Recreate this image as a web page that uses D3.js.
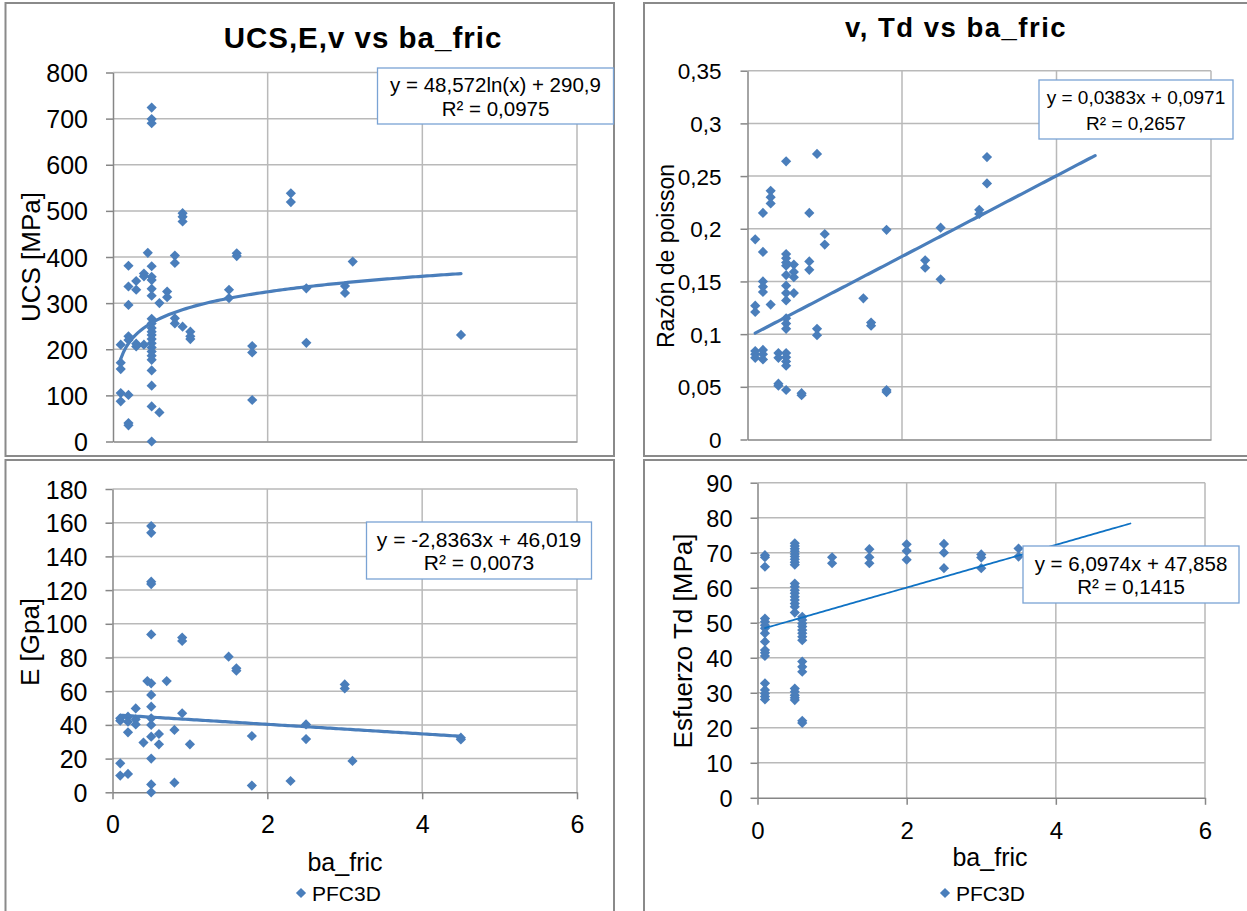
<!DOCTYPE html>
<html>
<head>
<meta charset="utf-8">
<script src="https://cdn.jsdelivr.net/npm/d3@7"></script>
<style>
  html, body { margin: 0; padding: 0; background: #fff; }
  svg { display: block; font-family: "Liberation Sans", Arial, Helvetica, sans-serif; }
</style>
</head>
<body>
<svg id="chart" width="1247" height="911"></svg>
<script>
// PFC3D calibration runs: macro properties against ball friction (ba_fric)

// ---- UCS [MPa] ----
const ucsFric = [
  0.5, 0.5, 0.5, 0.5, 0.5, 0.5, 0.5, 0.5, 0.5, 0.5, 0.5, 0.5, 0.5, 0.5, 0.5, 0.5, 0.5, 0.5, 0.5, 0.5, 0.5, 0.5, 0.5,
  0.9, 0.9, 0.9, 0.9,
  2.3, 2.3,
  0.45,
  0.2, 0.2, 0.2, 0.2, 0.2, 0.2, 0.2, 0.2,
  0.8, 0.8, 0.8, 0.8,
  1.6, 1.6,
  3.1,
  0.4, 0.4, 0.4,
  0.3, 0.3, 0.3, 0.3,
  0.7, 0.7,
  0.6, 0.6,
  1.5, 1.5,
  2.5, 2.5,
  3.0, 3.0,
  1.0, 1.0, 1.0,
  0.1, 0.1, 0.1, 0.1, 0.1,
  1.8, 1.8, 1.8,
  4.5
];
const ucsValues = [
  724, 699, 690, 380, 357, 350, 331, 316, 266, 256, 246, 238, 231, 222, 213, 204, 195, 186, 177, 154, 121, 76, 0,
  495, 487, 477, 249,
  538, 519,
  409,
  381, 336, 296, 228, 220, 101, 40, 35,
  403, 387, 267, 256,
  408, 402,
  390,
  364, 358, 210,
  348, 329, 212, 206,
  325, 313,
  300, 63,
  329, 311,
  332, 214,
  337, 322,
  238, 228, 222,
  210, 171, 157, 105, 87,
  207, 193, 90,
  231
];

// ---- E [GPa] ----
const eFric = [
  0.5, 0.5, 0.5, 0.5, 0.5, 0.5, 0.5, 0.5, 0.5, 0.5, 0.5, 0.5, 0.5, 0.5,
  0.45,
  0.9, 0.9, 0.9,
  1.5,
  1.6, 1.6,
  3.0, 3.0,
  0.7,
  0.3, 0.3, 0.3,
  0.1, 0.1, 0.1, 0.1,
  0.2, 0.2, 0.2, 0.2,
  0.6, 0.6,
  0.8, 0.8,
  0.4,
  1.0,
  1.8, 1.8,
  2.5, 2.5,
  3.1,
  2.3,
  4.5, 4.5
];
const eValues = [
  158, 154, 125, 123.6, 93.7, 64.7, 57.8, 50.8, 43.9, 40, 33, 20, 4.7, 0,
  66,
  91.8, 89.8, 46.9,
  80.5,
  73.6, 72.2,
  64, 61.6,
  66,
  49.8, 43.3, 40.3,
  43.9, 42.5, 17.2, 9.9,
  44.9, 41.9, 35.6, 10.9,
  34.6, 28.5,
  37, 5.7,
  29.5,
  28.5,
  33.4, 4.0,
  40.3, 31.6,
  18.6,
  6.7,
  32.4, 31.4
];

// ---- Poisson ratio ----
const nuFric = [
  0.1, 0.1, 0.1, 0.1, 0.1, 0.1,
  0.2, 0.2, 0.2, 0.2, 0.2, 0.2, 0.2, 0.2,
  0.3, 0.3, 0.3, 0.3,
  0.4, 0.4, 0.4, 0.4,
  0.5, 0.5, 0.5, 0.5, 0.5, 0.5, 0.5, 0.5, 0.5, 0.5, 0.5, 0.5, 0.5, 0.5, 0.5, 0.5, 0.5,
  0.6, 0.6, 0.6, 0.6,
  0.7, 0.7,
  0.8, 0.8, 0.8,
  0.9, 0.9, 0.9,
  1.0, 1.0,
  1.5,
  1.6, 1.6,
  1.8, 1.8, 1.8,
  2.3, 2.3,
  2.5, 2.5,
  3.0, 3.0,
  3.1, 3.1
];
const nuValues = [
  0.190, 0.127, 0.121, 0.084, 0.081, 0.0775,
  0.215, 0.178, 0.150, 0.145, 0.140, 0.085, 0.081, 0.076,
  0.236, 0.230, 0.224, 0.128,
  0.053, 0.051, 0.082, 0.0775,
  0.264, 0.176, 0.172, 0.168, 0.165, 0.156, 0.146, 0.139, 0.132, 0.115, 0.110, 0.105, 0.082, 0.078, 0.074, 0.070, 0.047,
  0.166, 0.159, 0.154, 0.139,
  0.044, 0.042,
  0.215, 0.169, 0.161,
  0.271, 0.105, 0.099,
  0.195, 0.185,
  0.134,
  0.111, 0.108,
  0.199, 0.047, 0.045,
  0.170, 0.163,
  0.201, 0.152,
  0.218, 0.214,
  0.268, 0.243
];

// ---- Tensile strength Td [MPa] ----
const tdFric = [
  0.1, 0.1, 0.1, 0.1, 0.1, 0.1, 0.1, 0.1, 0.1, 0.1, 0.1, 0.1, 0.1, 0.1, 0.1, 0.1, 0.1,
  0.5, 0.5, 0.5, 0.5, 0.5, 0.5, 0.5, 0.5, 0.5, 0.5, 0.5, 0.5, 0.5, 0.5, 0.5, 0.5, 0.5, 0.5, 0.5, 0.5, 0.5, 0.5, 0.5,
  0.6, 0.6, 0.6, 0.6, 0.6, 0.6, 0.6, 0.6, 0.6, 0.6, 0.6, 0.6, 0.6,
  1.0, 1.0,
  1.5, 1.5, 1.5,
  2.0, 2.0, 2.0,
  2.5, 2.5, 2.5,
  3.0, 3.0, 3.0,
  3.5, 3.5
];
const tdValues = [
  69.3, 68.7, 66.0, 51.2, 50.3, 49.3, 48.4, 47.0, 44.6, 42.2, 41.4, 40.5, 32.7, 30.8, 29.8, 28.9, 28.1,
  72.7, 71.9, 71.1, 70.4, 69.6, 68.9, 68.1, 67.3, 66.6, 61.2, 60.3, 59.3, 58.4, 57.4, 56.5, 55.5, 54.6, 52.9, 31.2, 30.3, 29.3, 28.6, 27.9,
  51.7, 50.8, 49.8, 48.9, 47.9, 47.0, 46.0, 45.0, 38.9, 37.4, 36.0, 22.0, 21.4,
  68.7, 67.0,
  71.0, 68.7, 67.0,
  72.4, 70.5, 68.0,
  72.5, 70.0, 65.6,
  69.5, 68.6, 65.6,
  71.2, 68.9
];

// ---- Axis ticks ----
const fricTicks = [0, 2, 4, 6];
const ucsTicks = [0, 100, 200, 300, 400, 500, 600, 700, 800];
const eTicks = [0, 20, 40, 60, 80, 100, 120, 140, 160, 180];
const nuTicks = [0, 0.05, 0.1, 0.15, 0.2, 0.25, 0.3, 0.35];
const nuTickLabels = ["0", "0,05", "0,1", "0,15", "0,2", "0,25", "0,3", "0,35"];
const tdTicks = [0, 10, 20, 30, 40, 50, 60, 70, 80, 90];

// ---- Trendlines (coefficients as printed on the chart) ----
const ucsTrend = { kind: "log", slope: 48.572, intercept: 290.9, from: 0.1, to: 4.5 };
const eTrend = { kind: "linear", slope: -2.8363, intercept: 46.019, from: 0.1, to: 4.5 };
const nuTrend = { kind: "linear", slope: 0.0383, intercept: 0.0971, from: 0.1, to: 4.5 };
const tdTrend = { kind: "linear", slope: 6.0974, intercept: 47.858, from: 0.1, to: 5.0 };

const ucsEquation = ["y = 48,572ln(x) + 290,9", "R\u00b2 = 0,0975"];
const eEquation = ["y = -2,8363x + 46,019", "R\u00b2 = 0,0073"];
const nuEquation = ["y = 0,0383x + 0,0971", "R\u00b2 = 0,2657"];
const tdEquation = ["y = 6,0974x + 47,858", "R\u00b2 = 0,1415"];

// ---- Styling ----
const markerColor = "#4a7ebb";
const gridColor = "#b9b9b9";
const axisColor = "#868686";
const frameColor = "#8a8a8a";
const boxColor = "#7aa3d4";
const markerArea = 52;

const svg = d3.select("#chart");
svg.append("rect").attr("width", 1247).attr("height", 911).attr("fill", "#fff");

// chart frames
const frames = [
  [5.5, 3, 608.5, 453],
  [644, 3, 620, 453],
  [5.5, 460, 608.5, 470],
  [644, 460, 620, 470]
];
svg.append("g").selectAll("rect").data(frames).join("rect")
  .attr("x", d => d[0]).attr("y", d => d[1])
  .attr("width", d => d[2]).attr("height", d => d[3])
  .attr("fill", "none").attr("stroke", frameColor).attr("stroke-width", 2);

function trendPoints(t) {
  const f = t.kind === "log"
    ? v => t.slope * Math.log(v) + t.intercept
    : v => t.slope * v + t.intercept;
  return d3.range(0, 121).map(i => {
    const v = t.from + (t.to - t.from) * i / 120;
    return [v, f(v)];
  });
}

function drawPanel(p) {
  const g = svg.append("g");
  const x = d3.scaleLinear().domain([0, 6]).range([p.x0, p.x1]);
  const y = d3.scaleLinear().domain([0, p.yTicks[p.yTicks.length - 1]]).range([p.y0, p.y1]);

  // gridlines
  g.append("g").selectAll("line").data(p.yTicks.slice(1)).join("line")
    .attr("x1", x(0)).attr("x2", x(6))
    .attr("y1", d => y(d)).attr("y2", d => y(d))
    .attr("stroke", gridColor).attr("stroke-width", 1.5);
  g.append("g").selectAll("line").data(fricTicks.slice(1)).join("line")
    .attr("x1", d => x(d)).attr("x2", d => x(d))
    .attr("y1", y(0)).attr("y2", y.range()[1])
    .attr("stroke", gridColor).attr("stroke-width", 1.5);

  // y axis
  const ya = g.append("g")
    .attr("transform", `translate(${x(0)},0)`)
    .call(d3.axisLeft(y)
      .tickValues(p.yTicks)
      .tickFormat((d, i) => p.yLabels ? p.yLabels[i] : String(d))
      .tickSizeInner(7).tickSizeOuter(0).tickPadding(p.yPad));
  ya.select(".domain").attr("stroke", axisColor).attr("stroke-width", 1.5);
  ya.selectAll(".tick line").attr("stroke", axisColor).attr("stroke-width", 1.5);
  ya.selectAll("text")
    .attr("font-family", "Liberation Sans, Arial, sans-serif")
    .attr("font-size", p.yFont).attr("fill", "#000").attr("dy", "0.36em");
  ya.attr("font-family", null).attr("font-size", null);

  // x axis
  const xa = g.append("g")
    .attr("transform", `translate(0,${y(0)})`)
    .call(d3.axisBottom(x)
      .tickValues(fricTicks)
      .tickFormat(p.xLabels ? d3.format("d") : () => "")
      .tickSizeInner(p.xLabels ? 7 : 0).tickSizeOuter(0).tickPadding(p.xPad || 3));
  xa.select(".domain").attr("stroke", axisColor).attr("stroke-width", 1.5);
  xa.selectAll(".tick line").attr("stroke", axisColor).attr("stroke-width", 1.5);
  xa.selectAll("text")
    .attr("font-family", "Liberation Sans, Arial, sans-serif")
    .attr("font-size", p.xFont || 24).attr("fill", "#000");
  xa.attr("font-family", null).attr("font-size", null);

  // markers
  const diamond = d3.symbol().type(d3.symbolSquare).size(markerArea);
  const pts = p.xs.map((v, i) => [v, p.ys[i]]);
  g.append("g").selectAll("path").data(pts).join("path")
    .attr("d", diamond)
    .attr("transform", d => `translate(${x(d[0])},${y(d[1])}) rotate(45)`)
    .attr("fill", markerColor);

  // trendline
  const line = d3.line().x(d => x(d[0])).y(d => y(d[1]));
  g.append("path")
    .attr("d", line(trendPoints(p.trend)))
    .attr("fill", "none")
    .attr("stroke", p.trendColor)
    .attr("stroke-width", p.trendWidth)
    .attr("stroke-linecap", "round");

  // equation label
  const b = p.box;
  g.append("rect")
    .attr("x", b.x).attr("y", b.y).attr("width", b.w).attr("height", b.h)
    .attr("fill", "#fff").attr("stroke", boxColor).attr("stroke-width", 1.3);
  g.append("g").selectAll("text").data(p.equation).join("text")
    .attr("x", b.x + b.w / 2)
    .attr("y", (d, i) => b.lines[i])
    .attr("text-anchor", "middle")
    .attr("font-size", b.font)
    .attr("fill", "#000")
    .text(d => d);
}

// UCS panel
drawPanel({
  x0: 113, x1: 577, y0: 441.5, y1: 72.5,
  yTicks: ucsTicks, yPad: 18, yFont: 25,
  xLabels: false,
  xs: ucsFric, ys: ucsValues,
  trend: ucsTrend, trendColor: markerColor, trendWidth: 3.2,
  equation: ucsEquation,
  box: { x: 377.5, y: 68, w: 236, h: 56, lines: [92, 115.5], font: 20.5 }
});

// Poisson ratio panel
drawPanel({
  x0: 747.5, x1: 1211, y0: 439.5, y1: 70.7,
  yTicks: nuTicks, yLabels: nuTickLabels, yPad: 19, yFont: 22.5,
  xLabels: false,
  xs: nuFric, ys: nuValues,
  trend: nuTrend, trendColor: markerColor, trendWidth: 3.2,
  equation: nuEquation,
  box: { x: 1039, y: 80, w: 194, h: 59, lines: [104, 130], font: 19 }
});

// Young's modulus panel
drawPanel({
  x0: 112.5, x1: 577, y0: 792.3, y1: 489,
  yTicks: eTicks, yPad: 18, yFont: 25,
  xLabels: true, xPad: 16, xFont: 25,
  xs: eFric, ys: eValues,
  trend: eTrend, trendColor: markerColor, trendWidth: 3.2,
  equation: eEquation,
  box: { x: 366.5, y: 522, w: 225, h: 57, lines: [546.5, 570], font: 21 }
});

// Tensile strength panel
drawPanel({
  x0: 757.5, x1: 1205, y0: 797.8, y1: 482.7,
  yTicks: tdTicks, yPad: 18, yFont: 23.5,
  xLabels: true, xPad: 17, xFont: 24,
  xs: tdFric, ys: tdValues,
  trend: tdTrend, trendColor: "#0f72c4", trendWidth: 1.8,
  equation: tdEquation,
  box: { x: 1023, y: 546, w: 216, h: 57, lines: [571, 594], font: 20.5 }
});

// titles
svg.append("text").attr("x", 363).attr("y", 47.5).attr("text-anchor", "middle")
  .attr("font-size", 29.5).attr("font-weight", "bold").attr("letter-spacing", 1)
  .text("UCS,E,v vs ba_fric");
svg.append("text").attr("x", 956).attr("y", 36.5).attr("text-anchor", "middle")
  .attr("font-size", 27.5).attr("font-weight", "bold").attr("letter-spacing", 1.5)
  .text("v, Td vs ba_fric");

// axis titles
const yTitles = [
  { t: "UCS [MPa]", x: 40, y: 257, s: 26 },
  { t: "E [Gpa]", x: 39, y: 642, s: 26 },
  { t: "Razón de poisson", x: 674, y: 256, s: 23 },
  { t: "Esfuerzo Td [MPa]", x: 692, y: 641, s: 26 }
];
svg.append("g").selectAll("text").data(yTitles).join("text")
  .attr("transform", d => `translate(${d.x},${d.y}) rotate(-90)`)
  .attr("text-anchor", "middle").attr("font-size", d => d.s).attr("fill", "#000")
  .text(d => d.t);

const xTitles = [
  { t: "ba_fric", x: 345, y: 871 },
  { t: "ba_fric", x: 990, y: 866 }
];
svg.append("g").selectAll("text").data(xTitles).join("text")
  .attr("x", d => d.x).attr("y", d => d.y)
  .attr("text-anchor", "middle").attr("font-size", 25).attr("fill", "#000")
  .text(d => d.t);

// legends
const legends = [{ x: 301, y: 893 }, { x: 945, y: 893 }];
const lg = svg.append("g").selectAll("g").data(legends).join("g")
  .attr("transform", d => `translate(${d.x},${d.y})`);
lg.append("path").attr("d", d3.symbol().type(d3.symbolSquare).size(markerArea))
  .attr("transform", "rotate(45)").attr("fill", markerColor);
lg.append("text").attr("x", 11).attr("y", 7.5).attr("font-size", 21).attr("fill", "#000").text("PFC3D");
</script>
</body>
</html>
